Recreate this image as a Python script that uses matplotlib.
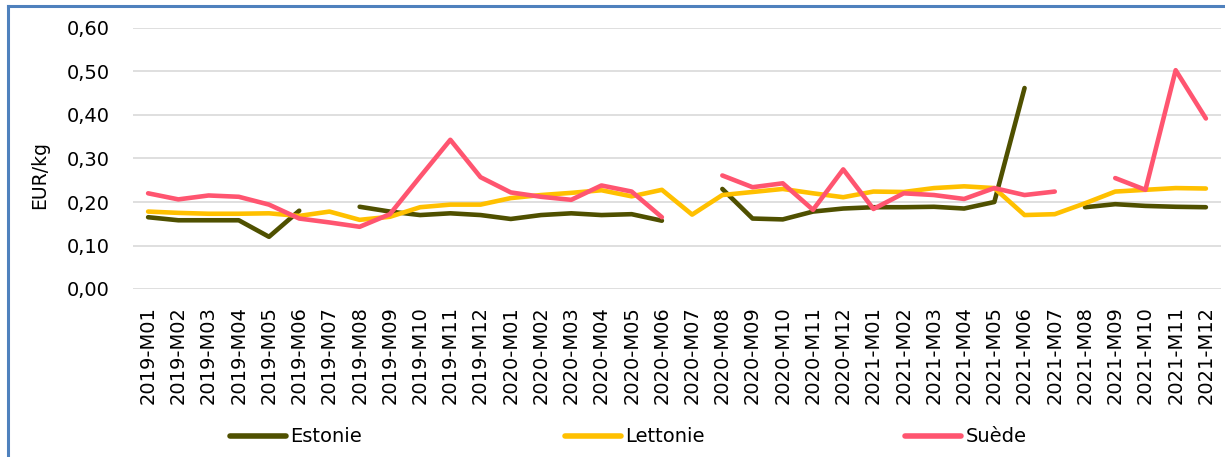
import numpy as np
import matplotlib
matplotlib.use("Agg")
import matplotlib.pyplot as plt
from matplotlib.ticker import FuncFormatter, MultipleLocator
from matplotlib.lines import Line2D

nan = np.nan
months = ["2019-M01", "2019-M02", "2019-M03", "2019-M04", "2019-M05", "2019-M06",
          "2019-M07", "2019-M08", "2019-M09", "2019-M10", "2019-M11", "2019-M12",
          "2020-M01", "2020-M02", "2020-M03", "2020-M04", "2020-M05", "2020-M06",
          "2020-M07", "2020-M08", "2020-M09", "2020-M10", "2020-M11", "2020-M12",
          "2021-M01", "2021-M02", "2021-M03", "2021-M04", "2021-M05", "2021-M06",
          "2021-M07", "2021-M08", "2021-M09", "2021-M10", "2021-M11", "2021-M12"]

estonie = [0.165, 0.158, 0.158, 0.158, 0.120, 0.180, nan, 0.189, 0.178, 0.170, 0.174, 0.170,
           0.161, 0.170, 0.174, 0.170, 0.172, 0.157, nan, 0.230, 0.162, 0.160, 0.178, 0.185,
           0.188, 0.188, 0.189, 0.185, 0.200, 0.462, nan, 0.188, 0.195, 0.191, 0.189, 0.188]
lettonie = [0.178, 0.175, 0.173, 0.173, 0.174, 0.168, 0.178, 0.159, 0.166, 0.188, 0.194, 0.194,
            0.209, 0.216, 0.221, 0.227, 0.213, 0.228, 0.171, 0.216, 0.223, 0.230, 0.220, 0.211,
            0.224, 0.223, 0.232, 0.236, 0.232, 0.170, 0.172, 0.197, 0.224, 0.228, 0.232, 0.231]
suede = [0.220, 0.206, 0.215, 0.212, 0.194, 0.162, 0.153, 0.143, 0.172, 0.258, 0.343, 0.257,
         0.222, 0.212, 0.205, 0.238, 0.224, 0.165, nan, 0.261, 0.234, 0.243, 0.182, 0.275,
         0.184, 0.220, 0.216, 0.207, 0.232, 0.216, 0.224, nan, 0.255, 0.228, 0.503, 0.392]

series_names = ["Estonie", "Lettonie", "Suède"]
colors = ["#4F5000", "#FFC000", "#FF5570"]

plt.rcParams['font.family'] = ['DejaVu Sans']

W, H = 1225, 457
fig = plt.figure(figsize=(W / 100, H / 100), dpi=100)
ax = fig.add_axes([133 / W, (H - 289) / H, (1221 - 133) / W, (289 - 28) / H])

x = np.arange(len(months))
handles = []
for vals, name, c in zip([estonie, lettonie, suede], series_names, colors):
    h, = ax.plot(x, vals, color=c, lw=3.3, solid_capstyle='round',
                 solid_joinstyle='round', label=name, zorder=3)
    handles.append(h)

ax.set_xlim(-0.5, len(months) - 0.5)
ax.set_ylim(0, 0.6)
ax.yaxis.set_major_locator(MultipleLocator(0.1))
ax.yaxis.set_major_formatter(FuncFormatter(lambda v, p: f"{v:.2f}".replace('.', ',')))
ax.grid(axis='y', color='#D9D9D9', lw=1.2, zorder=0)
ax.set_axisbelow(True)
for s in ax.spines.values():
    s.set_visible(False)
ax.tick_params(axis='both', length=0, labelsize=14, colors='#000000')
ax.tick_params(axis='y', pad=16.5)
ax.tick_params(axis='x', pad=12.5)
ax.set_xticks(x)
ax.set_xticklabels(months, rotation=90)
ax.set_ylabel("EUR/kg", fontsize=13.5)
ax.yaxis.set_label_coords(-0.0772, 0.437)

# legend entries placed individually (handle start x positions in pixels)
legend_x = [230, 565, 905]
for h, lx in zip(handles, legend_x):
    proxy = Line2D([], [], color=h.get_color(), lw=4.0, solid_capstyle='round')
    fig.legend(handles=[proxy], labels=[h.get_label()], loc='center left',
               bbox_to_anchor=(lx / W, (H - 437) / H), frameon=False, fontsize=14,
               handlelength=2.9, handletextpad=0.2, borderpad=0, borderaxespad=0)

# blue frame (left and top edges visible)
fig.add_artist(Line2D([7.5 / W, 7.5 / W], [0, 1 - 6 / H], transform=fig.transFigure,
                      color='#4F81BD', lw=2.2))
fig.add_artist(Line2D([7.5 / W, 1.0], [1 - 6 / H, 1 - 6 / H], transform=fig.transFigure,
                      color='#4F81BD', lw=2.2))

fig.savefig("out.png", dpi=100)
